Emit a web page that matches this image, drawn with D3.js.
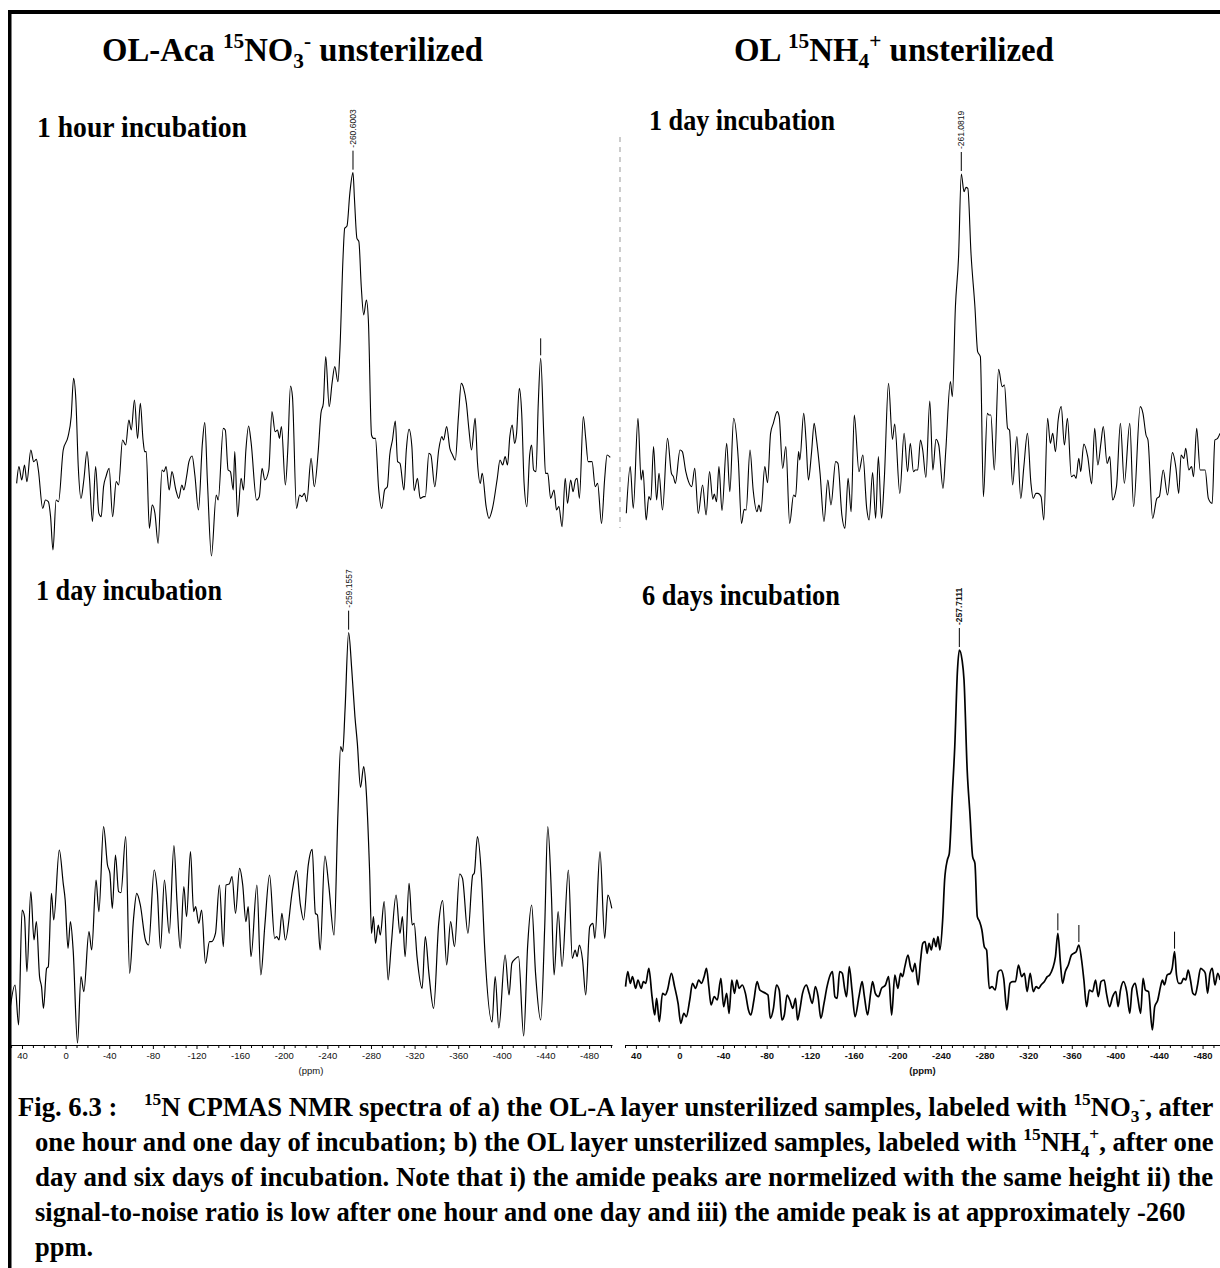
<!DOCTYPE html>
<html>
<head>
<meta charset="utf-8">
<script src="https://cdn.jsdelivr.net/npm/d3@7"></script>
<style>
  body { margin: 0; background: #fff; }
  svg { display: block; }
  .serif { font-family: "Liberation Serif", "Times New Roman", serif; font-weight: bold; }
  .sans { font-family: "Liberation Sans", Arial, sans-serif; }
</style>
</head>
<body>
<svg id="fig"></svg>
<script>
// [ppm, intensity (a.u.)]
const nitrate1h = [[44.9,26],[42.8,31],[40.2,27],[37.7,31.5],[35.5,26.5],[31.9,36],[29.3,32.5],[26.8,33.2],[25.0,30],[21.0,18.5],[18.5,21],[15.9,20.5],[13.8,16],[11.6,6],[8.7,21],[6.5,20.5],[2.2,36],[-2.2,40],[-5.1,46],[-7.3,57.5],[-9.4,51],[-11.6,31],[-14.1,21.5],[-16.7,27],[-19.6,35.5],[-21.8,28],[-24.6,14.5],[-27.5,31],[-30.5,17],[-32.6,16],[-34.8,25],[-37.0,28],[-39.9,30.5],[-43.1,16],[-46.4,26.5],[-48.6,25.5],[-52.2,39],[-55.1,37.5],[-58.0,45],[-60.2,42],[-63.1,51],[-66.0,39.5],[-68.5,50],[-71.0,39],[-72.5,35.5],[-73.9,35.5],[-76.8,12.5],[-79.4,19.5],[-81.9,17],[-84.8,8],[-88.4,30],[-90.2,29.5],[-92.1,31],[-95.0,24],[-97.5,29.5],[-101.1,24],[-103.7,21.5],[-106.6,25.5],[-108.4,24],[-110.9,28],[-113.1,32.5],[-116.0,34.2],[-118.5,28.5],[-121.8,18],[-125.4,38],[-127.6,44.2],[-130.1,26],[-133.7,4.2],[-138.1,22.5],[-139.9,21],[-144.6,42.5],[-146.4,42],[-149.0,30],[-151.1,29.5],[-153.7,24],[-155.1,35.5],[-157.7,16],[-160.9,27.5],[-163.1,24],[-165.3,36],[-167.8,43.2],[-170.0,38.5],[-175.1,21],[-177.6,22],[-180.1,30.5],[-182.7,27],[-186.3,30],[-189.2,47.5],[-192.1,41.5],[-194.3,42],[-196.1,39.5],[-197.9,43],[-201.5,25.5],[-203.7,36],[-206.2,55.2],[-208.0,52],[-211.7,18.5],[-214.6,22.5],[-216.7,22],[-218.9,23],[-221.1,20.5],[-225.1,33.5],[-228.0,25],[-231.6,35.5],[-234.1,47],[-236.3,50],[-238.5,64],[-241.7,49],[-244.3,56],[-246.8,61],[-249.7,56.5],[-251.5,66],[-254.4,94],[-255.9,102.5],[-258.0,103.2],[-260.6,113],[-263.5,119.2],[-264.9,111],[-267.1,99.5],[-268.9,98.5],[-271.1,85],[-273.3,76.5],[-275.8,81],[-277.6,75],[-280.5,40.5],[-282.3,39.5],[-284.1,39.5],[-287.0,24.5],[-289.9,18.5],[-292.5,24],[-295.0,25],[-297.2,34.5],[-299.7,39],[-302.3,44.7],[-304.4,32.5],[-306.6,32],[-310.2,24],[-312.4,36],[-314.9,42.2],[-317.5,37],[-319.6,23.8],[-322.6,27.5],[-325.1,21.5],[-328.4,22],[-329.8,22],[-333.1,35],[-334.9,34.5],[-338.5,25],[-342.1,36],[-345.0,40],[-346.5,39],[-349.4,43],[-352.3,36.5],[-354.8,34.5],[-357.3,33],[-360.2,46],[-362.8,56],[-365.0,54.5],[-367.5,50],[-369.7,42.5],[-372.2,36],[-375.5,45.5],[-377.6,32.5],[-380.2,26],[-382.0,29],[-385.6,19],[-388.2,15.5],[-391.4,18.5],[-395.8,27.5],[-398.3,33],[-400.8,31.5],[-403.0,34],[-405.2,31.5],[-407.3,40],[-409.5,43.5],[-411.7,38],[-413.5,41],[-416.0,54.5],[-418.2,47],[-420.4,26],[-422.9,19],[-425.5,34.5],[-427.3,37.5],[-429.1,30],[-431.3,29.5],[-433.4,50],[-435.6,63.5],[-438.5,40],[-440.0,29],[-442.1,29],[-444.7,21.5],[-447.9,24],[-450.1,18],[-452.3,19],[-455.2,13],[-458.1,27.5],[-460.2,20],[-463.1,27],[-465.3,23.5],[-467.5,27],[-469.0,27.5],[-471.1,21.5],[-474.7,46],[-476.9,39.5],[-479.1,32.5],[-482.7,32.5],[-485.6,25],[-487.8,26],[-491.4,14],[-494.3,27.5],[-496.5,34.5],[-499.4,33.8]];

const ammonium1d = [[48.8,17],[45.2,31],[42.4,18.5],[38.1,45.5],[35.2,27],[33.5,30],[30.6,15],[28.1,22],[26.3,21],[23.8,37],[21.0,21],[18.8,29],[15.6,18],[11.0,39.5],[7.4,29],[5.6,28],[3.8,26],[-0.5,36],[-2.6,35.5],[-5.8,29.5],[-8.3,26.5],[-11.2,25],[-14.0,30.5],[-17.2,17],[-21.2,25.5],[-24.4,16.5],[-27.6,29.5],[-30.5,21.2],[-31.9,22.8],[-34.0,20.5],[-36.2,31],[-39.0,17.8],[-43.3,38],[-46.2,23.5],[-49.7,45.5],[-54.0,33],[-56.9,14],[-59.4,18.2],[-61.2,18],[-64.7,36],[-67.6,24],[-71.1,17.5],[-72.9,19.5],[-74.7,17.5],[-78.3,31],[-80.8,26.2],[-83.6,41],[-86.1,44],[-89.7,47.5],[-91.5,46],[-94.7,30.5],[-97.6,37],[-101.1,14],[-104.7,22.5],[-106.5,22],[-109.3,35.5],[-110.4,33],[-114.0,47],[-116.1,39],[-118.3,27],[-121.1,35],[-123.6,44],[-125.4,40],[-129.0,29],[-132.6,14.5],[-136.1,27],[-139.0,19.5],[-143.3,32.5],[-145.4,32],[-149.0,16.5],[-151.8,12.5],[-154.7,27.5],[-157.5,17.5],[-160.4,46.5],[-164.7,29.5],[-168.3,34.5],[-171.8,18.5],[-174.0,15],[-177.2,29.2],[-180.0,15.5],[-182.5,34],[-185.4,15.5],[-187.9,27],[-191.8,56],[-195.4,39.2],[-197.5,43.8],[-202.2,23],[-206.1,41],[-209.3,29.5],[-211.8,38],[-214.7,29.5],[-216.4,30],[-218.6,30],[-221.1,39],[-223.2,36],[-226.1,27.8],[-229.7,50.7],[-232.5,30],[-235.4,39.2],[-237.9,37.5],[-241.8,24.5],[-244.3,35.5],[-248.6,56.5],[-250.4,52],[-253.2,79],[-256.1,94],[-258.6,118.8],[-261.1,113.5],[-262.9,114.8],[-264.6,114.5],[-267.5,95],[-271.1,79],[-273.6,65.5],[-276.1,64],[-278.9,22],[-282.5,47],[-283.9,46.5],[-285.7,46.5],[-288.9,30],[-292.8,60.2],[-296.1,55],[-298.2,55.5],[-301.1,42.5],[-302.8,42],[-305.7,25.5],[-309.6,40],[-313.2,21.5],[-316.0,31],[-319.3,41],[-322.5,26],[-324.6,21.5],[-327.1,23],[-328.9,23],[-331.8,22],[-334.3,15],[-337.8,45.5],[-340.3,38],[-342.5,41],[-345.0,35.5],[-347.5,45],[-350.3,49],[-353.2,37.5],[-356.0,45.5],[-359.6,28],[-362.1,28.5],[-363.9,27.5],[-366.4,33.5],[-368.2,29.5],[-371.0,37.8],[-374.6,34],[-378.2,25.8],[-381.0,42.5],[-383.9,31.5],[-386.7,38],[-388.9,43],[-392.4,32],[-394.9,34],[-397.4,21],[-401.0,25],[-404.6,44],[-408.2,26],[-413.2,44],[-416.7,19],[-422.8,49],[-425.3,47],[-428.1,40.5],[-429.9,39],[-434.2,15.5],[-438.1,21.5],[-440.3,22],[-443.9,30],[-447.8,22.5],[-452.4,35.2],[-455.6,30.5],[-458.1,23],[-460.3,34.5],[-462.8,33.5],[-464.6,36.5],[-467.4,30],[-469.9,31],[-471.7,28],[-474.6,42.5],[-477.8,30],[-479.9,30],[-482.4,30],[-485.3,21.5],[-488.8,20],[-491.3,39],[-493.8,39.5],[-496.0,41]];

const nitrate1d = [[51.1,3],[46.4,10.5],[43.1,-1.5],[39.9,33],[37.7,31],[35.5,14.5],[31.9,38.5],[29.0,24],[26.8,29.5],[23.9,13],[22.1,10],[20.3,3.5],[17.4,15.5],[15.9,16],[13.0,38],[10.9,30],[5.8,51],[2.2,41],[0.4,36],[-2.2,21.5],[-4.4,29.5],[-6.9,21],[-10.9,-6.9],[-14.1,13],[-16.7,8.5],[-21.4,26.5],[-23.9,21],[-27.9,42],[-30.5,32.5],[-34.8,58],[-38.4,46.5],[-40.6,44],[-42.8,33.5],[-45.7,49.5],[-48.6,38.5],[-50.7,38.2],[-55.1,55],[-58.7,14],[-62.3,30.5],[-65.2,38],[-68.5,34.5],[-73.2,24],[-76.1,22.5],[-81.2,45],[-84.1,38.5],[-87.0,21.5],[-90.6,42],[-95.0,26],[-99.3,52.3],[-102.2,35],[-105.1,21.5],[-108.4,40],[-110.9,31],[-114.5,50.5],[-117.4,32.5],[-119.2,34],[-122.1,29],[-124.7,33],[-128.3,17],[-131.9,23.5],[-133.7,23.5],[-137.4,26],[-141.0,40.5],[-144.6,22],[-147.1,40.5],[-150.0,40.8],[-152.6,43],[-155.8,32],[-159.5,45.5],[-162.4,40.5],[-165.3,29.5],[-167.4,34],[-170.0,19],[-175.4,40.5],[-179.0,13.5],[-182.7,28.5],[-187.0,43.5],[-191.7,24.5],[-193.5,25],[-195.7,24],[-198.3,32],[-201.5,24],[-208.0,39],[-211.7,44.8],[-215.3,34.5],[-218.2,30],[-222.5,46.5],[-226.1,51.2],[-229.0,32],[-230.9,31.5],[-233.4,21],[-237.7,49.2],[-241.4,40],[-246.1,25.5],[-249.7,62],[-252.2,82],[-254.1,80.5],[-256.2,93],[-259.5,116.2],[-262.4,105],[-265.3,91],[-267.5,83],[-270.4,69.8],[-273.3,76],[-275.4,70],[-278.7,45],[-280.5,26],[-282.3,31],[-284.1,23],[-286.7,28.5],[-288.5,25.5],[-292.1,35.5],[-295.7,12],[-298.6,22.5],[-303.0,37.5],[-306.6,26],[-308.8,31],[-311.3,19],[-314.9,41],[-317.8,28.5],[-319.6,29],[-322.2,19],[-326.9,9.5],[-329.8,25],[-333.1,14],[-337.4,3.5],[-342.1,29],[-345.7,35.8],[-349.4,16.5],[-353.0,29.5],[-356.6,22],[-361.3,43.8],[-363.9,42.5],[-368.9,26],[-373.3,43.5],[-374.7,44],[-377.6,55],[-381.3,43],[-384.2,22],[-391.0,-0.6],[-393.9,13],[-397.2,-2.4],[-403.0,19.5],[-406.6,7.5],[-409.2,17],[-412.8,18.5],[-415.3,19],[-420.0,-4.8],[-423.7,22.5],[-427.3,34.5],[-430.9,14],[-435.6,0],[-439.3,28],[-442.1,58],[-445.4,38],[-447.9,13.5],[-451.6,32.5],[-455.2,16],[-461.0,45],[-464.6,18.5],[-467.2,21],[-469.0,19],[-471.1,22.5],[-474.0,18],[-476.9,7.5],[-480.6,28],[-483.5,29],[-485.3,24.5],[-490.0,50.5],[-494.3,24.5],[-497.2,37.5],[-500.8,33.5]];

const ammonium6d = [[49.5,10],[47.4,14.5],[45.2,11],[43.1,13],[40.2,9.5],[38.1,12],[35.2,9.5],[33.1,11.5],[31.0,11],[28.1,15.5],[25.2,7],[22.7,1.5],[21.0,6.5],[18.5,-0.5],[15.6,8],[13.1,7.5],[11.0,9],[7.4,14],[4.5,10],[1.3,5],[-1.2,-1],[-4.0,2],[-6.2,1],[-9.4,6],[-11.9,11],[-14.8,9.5],[-17.6,12],[-20.1,11],[-22.6,13],[-24.8,15.5],[-26.9,10],[-29.0,4.5],[-31.9,7],[-34.7,6],[-38.0,12.5],[-40.5,4],[-43.3,8],[-45.5,2],[-48.0,12],[-50.5,8],[-52.6,12],[-54.7,9.5],[-57.6,10.5],[-60.5,8],[-63.3,3],[-65.5,1.5],[-68.3,6],[-71.2,11.5],[-73.7,9],[-76.2,8.5],[-79.0,8],[-81.2,7.5],[-83.3,0.5],[-86.2,3.5],[-89.0,10.5],[-91.5,9],[-94.0,0],[-96.2,1.5],[-98.7,7.5],[-101.2,6],[-104.0,3.5],[-106.5,6.5],[-108.3,0],[-110.4,3],[-112.9,8],[-116.5,10.5],[-119.0,8],[-121.9,5],[-124.7,10],[-127.2,7],[-129.7,0.5],[-132.6,5],[-135.4,10],[-138.3,13.5],[-140.4,14.5],[-142.6,7],[-144.7,6.5],[-146.9,14.5],[-149.4,14],[-151.5,9.5],[-153.3,7],[-155.8,16],[-158.3,9],[-161.1,1],[-164.7,7],[-167.6,11.5],[-169.7,7],[-172.6,1.5],[-175.4,8],[-177.2,11.5],[-179.7,8],[-182.6,7],[-185.4,9.5],[-189.0,10.5],[-191.9,13],[-194.7,1.5],[-197.6,13.5],[-200.4,9.5],[-202.9,14],[-204.7,13],[-206.8,16],[-209.7,19.5],[-211.9,16],[-214.0,14.5],[-216.1,17],[-219.0,10.5],[-221.1,17.5],[-223.3,23],[-225.4,23.5],[-227.2,20],[-229.0,23],[-231.1,21],[-233.3,24.5],[-235.4,22],[-237.2,25],[-239.0,21],[-241.5,30],[-243.3,42],[-245.8,48],[-247.6,50],[-250.4,68],[-252.6,82],[-255.1,105],[-256.8,111],[-259.3,108],[-261.1,102],[-264.0,75],[-266.5,62],[-269.0,49],[-271.1,47],[-273.3,31],[-275.4,29.5],[-277.5,27],[-279.7,22],[-281.8,21],[-284.3,9.5],[-286.8,10],[-289.7,9],[-292.5,14.5],[-295.0,15],[-297.5,12.5],[-300.4,3],[-303.3,11],[-305.8,11.5],[-308.3,11.5],[-311.1,16.5],[-314.0,13],[-316.5,14],[-319.0,8.5],[-321.8,14],[-324.7,8.5],[-327.2,10],[-329.7,9.5],[-331.8,10.5],[-334.7,11.5],[-337.5,13],[-339.7,13.5],[-342.5,15.5],[-345.0,19],[-347.2,26],[-349.7,16.5],[-351.5,11],[-354.0,14.5],[-356.8,16.5],[-359.7,19.5],[-361.8,20],[-364.0,20.5],[-366.5,22.5],[-369.0,18],[-371.1,12],[-373.6,4],[-376.1,9],[-379.0,8.5],[-381.8,12],[-384.3,7],[-386.8,11.5],[-389.7,12],[-391.8,8],[-394.7,4],[-397.5,7],[-400.4,8.5],[-402.5,4],[-404.7,9],[-407.5,11.5],[-410.4,8.5],[-413.2,2],[-415.4,9.5],[-418.2,11],[-420.4,7],[-423.2,2],[-425.4,12.5],[-427.5,9],[-430.4,8.5],[-433.9,-3],[-436.1,4],[-438.9,6],[-441.4,10],[-443.2,12],[-445.0,10.5],[-447.5,13.5],[-450.4,14],[-452.1,15.5],[-454.3,20.5],[-456.1,13.5],[-458.2,11],[-460.4,11],[-462.5,12.5],[-464.6,12],[-466.8,15],[-468.9,12],[-471.1,8],[-473.2,7.5],[-475.4,10.5],[-478.2,15.5],[-480.4,15],[-482.5,14],[-484.6,8],[-486.8,14],[-488.9,15.5],[-491.4,10.5],[-493.9,14],[-496.1,12]];

const ppmTicks = d3.range(40, -481, -40);
const ppmMinor = d3.range(50, -501, -10).filter(d => d % 40 !== 0);
const peakLabels = ["-260.6003", "-261.0819", "-259.1557", "-257.7111"];
const markerPpm = [[-435.6], [], [], [-347.2, -366.5, -454.3]];
const subtitles = ["1 hour incubation", "1 day incubation", "1 day incubation", "6 days incubation"];

const titleLeft = [["OL-Aca "], ["15", "sup"], ["NO"], ["3", "sub"], ["-", "sup"], [" unsterilized"]];
const titleRight = [["OL "], ["15", "sup"], ["NH"], ["4", "sub"], ["+", "sup"], [" unsterilized"]];
const caption = [
  [["Fig. 6.3 :    "], ["15", "sup"], ["N CPMAS NMR spectra of a) the OL-A layer unsterilized samples, labeled with "], ["15", "sup"], ["NO"], ["3", "sub"], ["-", "sup"], [", after"]],
  [["one hour and one day of incubation; b) the OL layer unsterilized samples, labeled with "], ["15", "sup"], ["NH"], ["4", "sub"], ["+", "sup"], [", after one"]],
  [["day and six days of incubation. Note that i) the amide peaks are normelized with the same height ii) the"]],
  [["signal-to-noise ratio is low after one hour and one day and iii) the amide peak is at approximately -260"]],
  [["ppm."]]
];

const W = 1220, H = 1268;
const svg = d3.select("#fig").attr("width", W).attr("height", H);

svg.append("rect").attr("x", 8).attr("y", 10).attr("width", W - 8).attr("height", 4).attr("fill", "#000");
svg.append("rect").attr("x", 8).attr("y", 10).attr("width", 3.5).attr("height", H - 10).attr("fill", "#000");

const xLeft = d3.scaleLinear().domain([51, -501]).range([10, 612]);
const xRight = d3.scaleLinear().domain([50, -496]).range([625, 1220]);
const yTop = d3.scaleLinear().domain([0, 126]).range([570, 150]);
const yBottom = d3.scaleLinear().domain([0, 132]).range([1020, 580]);
const axisY = 1045;

const richText = (parent, segs, size) => {
  const t = parent.append("text").attr("class", "serif").attr("font-size", size).style("white-space", "pre");
  let shift = 0;
  segs.forEach(([s, k]) => {
    const target = k === "sup" ? -0.4 * size : k === "sub" ? 0.22 * size : 0;
    t.append("tspan").attr("dy", target - shift).attr("font-size", k ? size * 0.65 : size).text(s);
    shift = target;
  });
  return t;
};

const fit = (t, x, y, w, s) => {
  const bw = t.node().getBBox().width;
  const k = s || w / bw;
  t.attr("transform", `translate(${x},${y}) scale(${k},1)`);
  return k;
};

fit(richText(svg, titleLeft, 33), 102, 61, 381);
fit(richText(svg, titleRight, 33), 734, 61, 320);

const panels = [
  {data: nitrate1h, x: xLeft, y: yTop, sub: [37, 137, 210], sw: 1.1},
  {data: ammonium1d, x: xRight, y: yTop, sub: [649, 130, 186], sw: 1.1},
  {data: nitrate1d, x: xLeft, y: yBottom, sub: [36, 600, 186], sw: 1.2, axis: true},
  {data: ammonium6d, x: xRight, y: yBottom, sub: [642, 605, 198], sw: 1.7, axis: true, bold: true}
];

panels.forEach((p, i) => {
  const g = svg.append("g");

  const line = d3.line()
    .x(d => p.x(d[0]))
    .y(d => p.y(d[1]))
    .curve(d3.curveMonotoneX);

  g.append("path")
    .datum(p.data)
    .attr("fill", "none")
    .attr("stroke", "#000")
    .attr("stroke-width", p.sw)
    .attr("stroke-linejoin", "round")
    .attr("d", line);

  const t = g.append("text").attr("class", "serif").attr("font-size", 29).text(subtitles[i]);
  fit(t, p.sub[0], p.sub[1], p.sub[2]);

  // main peak pick
  const top = d3.greatest(p.data, d => d[1]);
  const px = p.x(top[0]), py = p.y(top[1]);
  g.append("line")
    .attr("x1", px).attr("x2", px)
    .attr("y1", py - 3).attr("y2", py - 22)
    .attr("stroke", "#000").attr("stroke-width", 1);
  g.append("text")
    .attr("class", "sans")
    .attr("font-size", 8.5)
    .attr("font-weight", p.bold ? "bold" : "normal")
    .attr("fill", "#111")
    .attr("transform", `translate(${px + 3},${py - 25}) rotate(-90)`)
    .text(peakLabels[i]);

  // small unlabeled picks
  markerPpm[i].forEach(m => {
    const d = d3.least(p.data, e => Math.abs(e[0] - m));
    const mx = p.x(d[0]), my = p.y(d[1]);
    g.append("line")
      .attr("x1", mx).attr("x2", mx)
      .attr("y1", my - 3).attr("y2", my - 20)
      .attr("stroke", "#000").attr("stroke-width", 1);
  });

  if (p.axis) {
    const [r0, r1] = p.x.range();
    const major = g.append("g")
      .attr("transform", `translate(0,${axisY})`)
      .call(d3.axisBottom(p.x).tickValues(ppmTicks).tickSize(4).tickSizeOuter(0).tickPadding(3).tickFormat(d => String(d)));
    major.attr("font-size", 9.5).attr("font-family", "Liberation Sans, Arial, sans-serif");
    major.selectAll(".tick text").attr("fill", "#111").attr("font-weight", p.bold ? "bold" : "normal");
    const dom = p.x.domain();
    g.append("g")
      .attr("transform", `translate(0,${axisY})`)
      .call(d3.axisBottom(p.x).tickValues(ppmMinor.filter(d => d <= dom[0] && d >= dom[1])).tickSize(3).tickFormat(""))
      .call(a => a.select(".domain").remove());
    g.append("text")
      .attr("class", "sans")
      .attr("font-size", 9.5)
      .attr("font-weight", p.bold ? "bold" : "normal")
      .attr("fill", "#111")
      .attr("text-anchor", "middle")
      .attr("x", (r0 + r1) / 2)
      .attr("y", axisY + 29)
      .text("(ppm)");
  }
});

// dashed left edge of the upper right spectrum
svg.append("line")
  .attr("x1", 620).attr("x2", 620)
  .attr("y1", 137).attr("y2", 528)
  .attr("stroke", "#999").attr("stroke-width", 1)
  .attr("stroke-dasharray", "5,5");

const capBase = [1116, 1151, 1186, 1221, 1256];
const capX = [18, 35, 35, 35, 35];
const capW = [1196, 1179, 1179, 1151];
let lastK = 1;
caption.forEach((segs, i) => {
  const t = richText(svg, segs, 27);
  lastK = fit(t, capX[i], capBase[i], capW[i], i < 4 ? null : lastK);
});
</script>
</body>
</html>
